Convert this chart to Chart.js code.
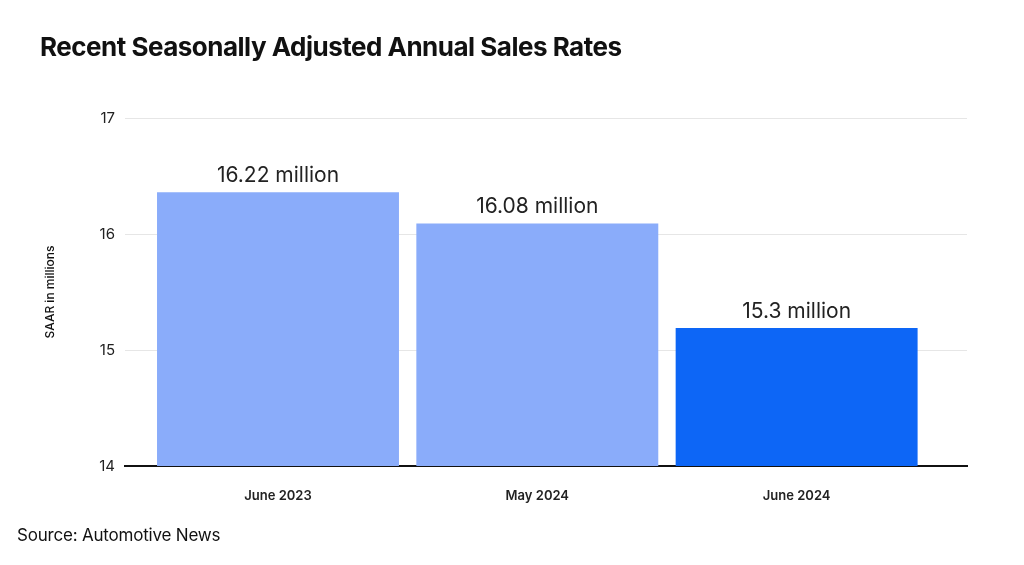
<!DOCTYPE html>
<html>
<head>
<meta charset="utf-8">
<script src="https://cdn.jsdelivr.net/npm/chart.js@4/dist/chart.umd.min.js"></script>
<style>
  body { margin: 0; background: #fff; }
  #wrap { position: relative; width: 1024px; height: 565px; overflow: hidden; font-family: Inter, "Liberation Sans", sans-serif; }
  #title { position: absolute; left: 40px; top: 31px; font-size: 26px; font-weight: 700; color: #111; letter-spacing: -0.5px; }
  #source { position: absolute; left: 17px; top: 525px; font-size: 17px; color: #111; letter-spacing: -0.2px; }
  #chartBox { position: absolute; left: 0; top: 0; width: 1024px; height: 565px; }
</style>
</head>
<body>
<div id="wrap">
  <div id="chartBox"><canvas id="salesChart" width="1024" height="565"></canvas></div>
  <div id="title">Recent Seasonally Adjusted Annual Sales Rates</div>
  <div id="source">Source: Automotive News</div>
</div>
<script>
const categories = ["June 2023", "May 2024", "June 2024"];
const saarValues = [16.36, 16.09, 15.19];
const valueLabels = ["16.22 million", "16.08 million", "15.3 million"];
const barColors = ["#8aacfa", "#8aacfa", "#0d66f6"];
const yTicks = [14, 15, 16, 17];

// write the text over each bar
const barLabels = {
  id: "barLabels",
  afterDatasetsDraw(chart) {
    const c = chart.ctx;
    const meta = chart.getDatasetMeta(0);
    c.save();
    c.font = "21px Inter, 'Liberation Sans', sans-serif";
    c.fillStyle = "#222";
    c.textAlign = "center";
    c.textBaseline = "bottom";
    meta.data.forEach((bar, i) => {
      c.fillText(valueLabels[i], bar.x, bar.y - 6);
    });
    c.restore();
  }
};

const ctx = document.getElementById("salesChart").getContext("2d");
new Chart(ctx, {
  type: "bar",
  data: {
    datasets: [{
      data: saarValues.map((v, i) => ({ x: i, y: v })),
      backgroundColor: barColors,
      borderWidth: 0,
      barPercentage: 0.933,
      categoryPercentage: 1
    }]
  },
  options: {
    responsive: false,
    animation: false,
    layout: { padding: { top: 118, right: 57, bottom: 0, left: 0 } },
    plugins: { legend: { display: false }, tooltip: { enabled: false } },
    scales: {
      x: {
        type: "linear",
        offset: false,
        min: -0.59,
        max: 2.657,
        afterBuildTicks: scale => { scale.ticks = categories.map((c, i) => ({ value: i })); },
        afterFit: scale => { scale.height = 99; },
        ticks: {
          padding: 14,
          color: "#222",
          font: { family: "Inter", size: 13, weight: 600 },
          callback: v => categories[v]
        },
        grid: { display: false },
        border: { display: true, color: "#111", width: 2 }
      },
      y: {
        min: 14,
        max: 17,
        afterBuildTicks: scale => { scale.ticks = yTicks.map(v => ({ value: v })); },
        afterFit: scale => { scale.width = 125; },
        ticks: {
          padding: 10,
          color: "#222",
          font: { family: "Inter", size: 15 }
        },
        title: {
          display: true,
          text: "SAAR in millions",
          color: "#111",
          font: { family: "Inter", size: 12, weight: 500 },
          padding: { top: 43, bottom: 0 }
        },
        grid: { color: "#e6e6e6", lineWidth: 1, drawTicks: false },
        border: { display: false }
      }
    }
  },
  plugins: [barLabels]
});
</script>
</body>
</html>
